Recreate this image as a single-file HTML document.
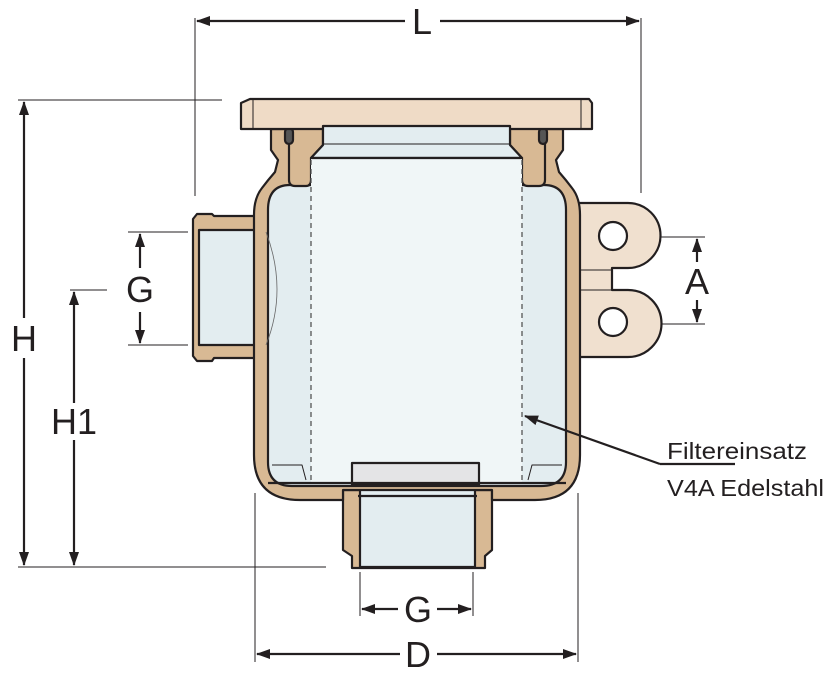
<!DOCTYPE html>
<html><head><meta charset="utf-8"><style>
html,body{margin:0;padding:0;background:#fff;}
svg{display:block;}
text{font-family:"Liberation Sans",sans-serif;fill:#231f20;}
</style></head><body>
<svg width="827" height="678" viewBox="0 0 827 678" xmlns="http://www.w3.org/2000/svg">
<defs>
<marker id="ar" markerWidth="14" markerHeight="12" refX="13" refY="6" orient="auto-start-reverse" markerUnits="userSpaceOnUse">
<path d="M0,1 L14,6 L0,11 Z" fill="#231f20"/></marker>
</defs>
<g stroke="#231f20" stroke-width="1" fill="none">
<line x1="195" y1="18" x2="195" y2="196"/>
<line x1="641" y1="18" x2="641" y2="193"/>
<line x1="18" y1="100" x2="222" y2="100"/>
<line x1="18" y1="567" x2="326" y2="567"/>
<line x1="70" y1="290" x2="107" y2="290"/>
<line x1="128" y1="232" x2="188" y2="232"/>
<line x1="128" y1="345" x2="188" y2="345"/>
<line x1="655" y1="237" x2="705" y2="237"/>
<line x1="655" y1="324" x2="705" y2="324"/>
<line x1="255" y1="493" x2="255" y2="662"/>
<line x1="578" y1="493" x2="578" y2="662"/>
<line x1="360" y1="572" x2="360" y2="616"/>
<line x1="473" y1="572" x2="473" y2="616"/>
</g>
<g stroke="#231f20" stroke-width="2.2" fill="none">
<line x1="197" y1="21" x2="405" y2="21" marker-start="url(#ar)"/>
<line x1="440" y1="21" x2="639" y2="21" marker-end="url(#ar)"/>
<line x1="24" y1="102" x2="24" y2="318" marker-start="url(#ar)"/>
<line x1="24" y1="358" x2="24" y2="565" marker-end="url(#ar)"/>
<line x1="74" y1="292" x2="74" y2="403" marker-start="url(#ar)"/>
<line x1="74" y1="440" x2="74" y2="565" marker-end="url(#ar)"/>
<line x1="140" y1="234" x2="140" y2="268" marker-start="url(#ar)"/>
<line x1="140" y1="312" x2="140" y2="343" marker-end="url(#ar)"/>
<line x1="697" y1="239" x2="697" y2="262" marker-start="url(#ar)"/>
<line x1="697" y1="300" x2="697" y2="322" marker-end="url(#ar)"/>
<line x1="362" y1="609" x2="398" y2="609" marker-start="url(#ar)"/>
<line x1="437" y1="609" x2="471" y2="609" marker-end="url(#ar)"/>
<line x1="257" y1="654" x2="400" y2="654" marker-start="url(#ar)"/>
<line x1="437" y1="654" x2="576" y2="654" marker-end="url(#ar)"/>
</g>
<g font-size="36">
<text x="422" y="34" text-anchor="middle">L</text>
<text x="24" y="351" text-anchor="middle">H</text>
<text x="74" y="434" text-anchor="middle">H1</text>
<text x="140" y="302" text-anchor="middle">G</text>
<text x="697" y="294" text-anchor="middle">A</text>
<text x="418" y="622" text-anchor="middle">G</text>
<text x="418" y="667" text-anchor="middle">D</text>
</g>
<text x="667" y="459" font-size="23" textLength="140" lengthAdjust="spacingAndGlyphs">Filtereinsatz</text>
<text x="667" y="496" font-size="23" textLength="157" lengthAdjust="spacingAndGlyphs">V4A Edelstahl</text>

<g stroke="#231f20" stroke-width="2.2" stroke-linejoin="round">
<path d="M578,203 H628 A32,32 0 0 1 628,268 H612 V290 H628 A33,33 0 0 1 628,357 H578 Z" fill="#f0e0cf"/>
<line x1="580" y1="270" x2="612" y2="270" stroke-width="1"/>
<line x1="580" y1="290" x2="612" y2="290" stroke-width="1"/>
<circle cx="613" cy="236" r="14" fill="#fff"/>
<circle cx="613" cy="322" r="14" fill="#fff"/>
<path d="M268,216 H214 L212,214 H197 L193,219 V356 L197,361 H212 L214,358 H268 Z" fill="#d8b994"/>
<rect x="199" y="230" width="68" height="115" fill="#e3edf0"/>
<path d="M343,490 V550 L352,556 V568 H485 V556 L492,550 V490 Z" fill="#d8b994"/>
<rect x="360" y="487" width="115" height="80" fill="#e3edf0"/>
<line x1="358" y1="496" x2="477" y2="496"/>
<path d="M271,129 V150 L278,160 L275,172 Q268,180 262,188 Q254,198 254,215 V455 Q254,500 300,500 H343 V490 H492 V500 H535 Q580,500 580,455 V215 Q580,198 572,188 Q566,180 559,172 L556,160 L563,150 V129 Z" fill="#d8b994"/>
<path d="M290,185 Q268,185 268,210 V462 Q268,486 292,486 H541 Q566,486 566,462 V210 Q566,185 544,185 Z" fill="#e3edf0"/>
<path d="M289,128 V180 Q289,186 295,186 H306 Q311,186 311,180 V158 L323,145 V128 Z" fill="#d8b994"/>
<path d="M545,128 V180 Q545,186 539,186 H528 Q522,186 522,180 V158 L510,145 V128 Z" fill="#d8b994"/>
<rect x="285" y="128" width="8" height="16" rx="4" fill="#555"/>
<rect x="539" y="128" width="8" height="16" rx="4" fill="#555"/>
<path d="M250,99 H589 L592,103 V129 H241 V103 Z" fill="#efdbc6"/>
<line x1="253" y1="100" x2="253" y2="128" stroke-width="1"/>
<line x1="581" y1="100" x2="581" y2="128" stroke-width="1"/>
<path d="M323,126 H510 V145 L522,158 H311 L323,145 Z" fill="#e3edf0"/>
<line x1="323" y1="144" x2="510" y2="144" stroke-width="1"/>
<rect x="311" y="158" width="211" height="324" fill="#f0f6f7" stroke="none"/>
<line x1="311" y1="158" x2="522" y2="158"/>
<rect x="352" y="463" width="127" height="22" fill="#e4e4e6"/>
<line x1="268" y1="483" x2="566" y2="483"/>
<path d="M272,465 H302 L306,480" fill="none" stroke-width="1"/>
<path d="M562,465 H532 L528,480" fill="none" stroke-width="1"/>
</g>
<g stroke="#555" stroke-width="1.3" stroke-dasharray="5,4" fill="none">
<line x1="311" y1="160" x2="311" y2="480"/>
<line x1="522" y1="160" x2="522" y2="480"/>
</g>
<path d="M266,232 Q288,290 266,345" stroke="#666" stroke-width="0.8" fill="none"/>
<g stroke="#231f20" stroke-width="2.2" fill="none">
<line x1="660" y1="464" x2="525" y2="416" marker-end="url(#ar)"/>
<line x1="660" y1="464" x2="735" y2="464"/>
</g>
</svg>
</body></html>
